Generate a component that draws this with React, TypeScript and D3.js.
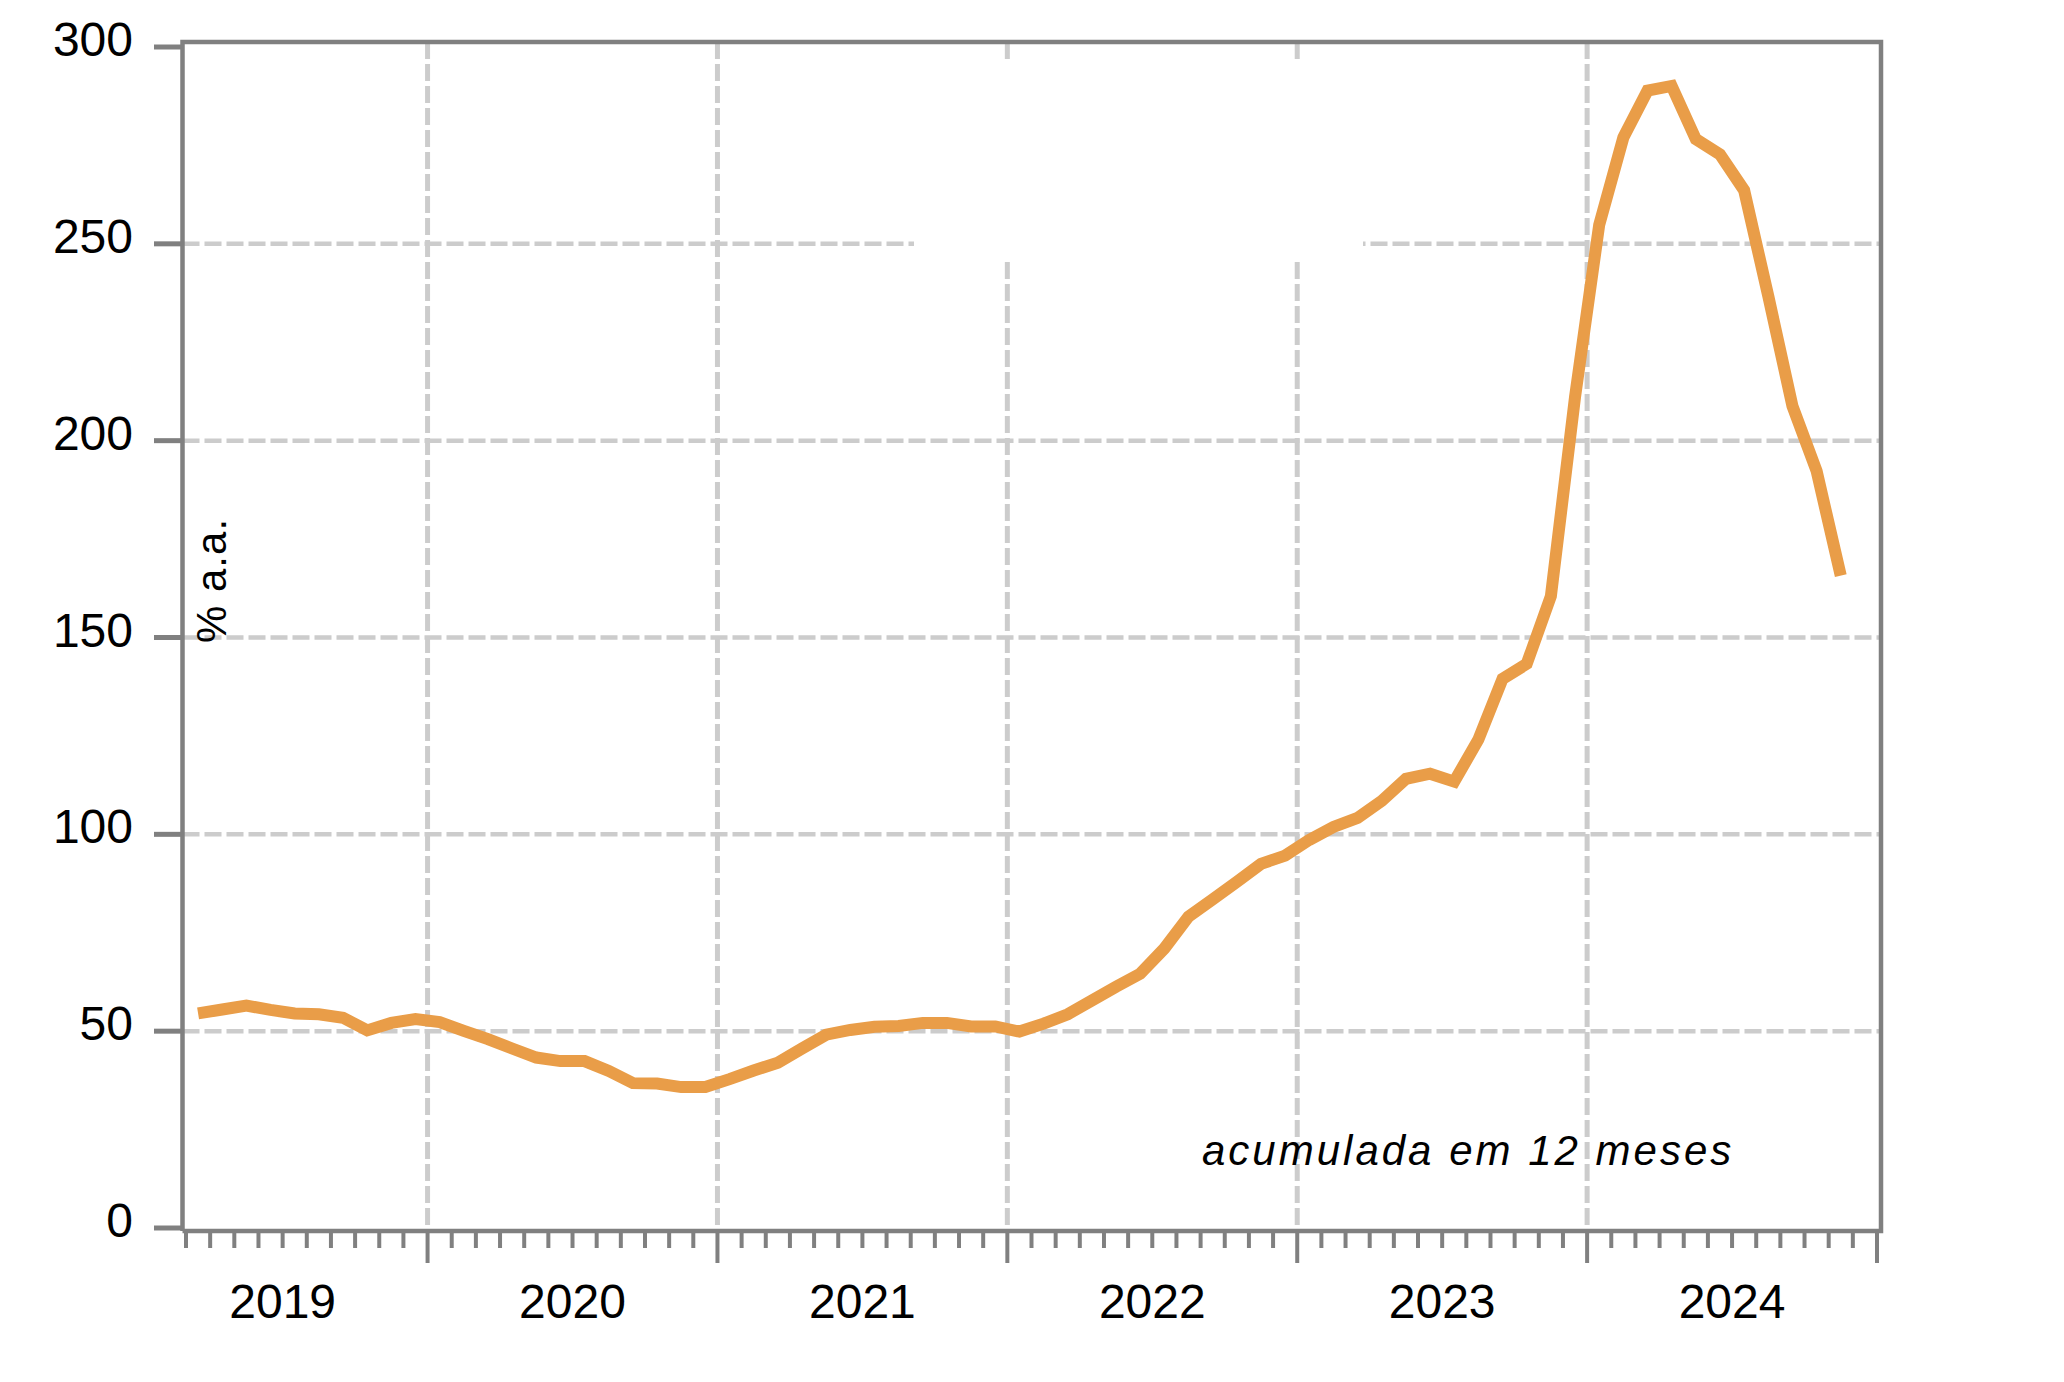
import * as d3 from 'd3'

// monthly series, Mar 2019 .. Nov 2024 (% a.a., acumulada em 12 meses)
const firstYear = 2019
const firstMonth = 2 // March, 0-based
const lastBoundary = 70 // Jan 2025, in months after Mar 2019

const yearLabels = ['2019', '2020', '2021', '2022', '2023', '2024']
const yTicks = [0, 50, 100, 150, 200, 250, 300]
const yGrid = [50, 100, 150, 200, 250]

const inflation = [
  54.5, 55.5, 56.5, 55.4, 54.5, 54.3, 53.4, 50.2, 52.1, 53.1,
  52.3, 50.1, 48.0, 45.6, 43.3, 42.4, 42.4, 39.9, 36.8, 36.7, 35.8, 35.8,
  37.8, 40.0, 42.0, 45.6, 49.1, 50.3, 51.1, 51.3, 52.1, 52.1, 51.2, 51.2,
  49.9, 51.9, 54.3, 57.8, 61.3, 64.6, 71.0, 79.1, 83.5, 87.9, 92.5, 94.6,
  98.6, 101.9, 104.2, 108.5, 114.1, 115.4, 113.4, 124.1, 139.5, 143.3, 160.5, 211.1,
  254.8, 277.0, 288.9, 290.1, 276.6, 272.7, 263.6, 236.7, 208.8, 192.3, 165.7,
]

const axisGray = '#808080'
const gridGray = '#cccccc'
const lineColor = '#e99d48'
const font = '"Liberation Sans", Arial, sans-serif'

export default function App() {
  const W = 2064
  const H = 1382
  const left = 182.5
  const right = 1881
  const top = 42
  const bottom = 1231

  const x = d3.scaleLinear().domain([0, lastBoundary]).range([186, 1877])
  const y = d3.scaleLinear().domain([0, 300]).range([1228, 47])

  const line = d3.line<number>()
    .x((_, i) => x(i + 0.5))
    .y(d => y(d))

  const boundaries = d3.range(0, lastBoundary + 1)
  const isYearStart = (k: number) => (k + firstMonth) % 12 === 0
  const yearMid = (i: number) => i * 12 - firstMonth + 6

  return (
    <svg width={W} height={H} style={{ position: 'absolute', left: 0, top: 0, background: '#fff' }}>
      {/* gridlines */}
      {yGrid.map(v => (
        <line key={'gy' + v} x1={left} x2={right} y1={y(v)} y2={y(v)}
          stroke={gridGray} strokeWidth={4.5} strokeDasharray="17 5" />
      ))}
      {boundaries.filter(k => isYearStart(k) && k < lastBoundary).map(k => (
        <line key={'gx' + k} x1={x(k)} x2={x(k)} y1={top} y2={bottom}
          stroke={gridGray} strokeWidth={5} strokeDasharray="17 5" />
      ))}
      {/* empty legend area */}
      <rect x={914} y={64} width={449} height={193} fill="#fff" />

      {/* frame */}
      <path d={`M${left},${bottom}V${top}H${right}V${bottom}H${left}`} fill="none"
        stroke={axisGray} strokeWidth={4.5} />

      {/* y ticks */}
      {yTicks.map(v => (
        <g key={'yt' + v}>
          <line x1={154} x2={left} y1={y(v)} y2={y(v)} stroke={axisGray} strokeWidth={5} />
          <text x={133} y={y(v) + 9} textAnchor="end" fontFamily={font} fontSize={48} fill="#000">{v}</text>
        </g>
      ))}

      {/* x ticks */}
      {boundaries.map(k => (
        <line key={'xt' + k} x1={x(k)} x2={x(k)} y1={bottom}
          y2={isYearStart(k) ? 1263 : 1248} stroke={axisGray} strokeWidth={4} />
      ))}
      {yearLabels.map((lab, i) => (
        <text key={lab} x={x(yearMid(i))} y={1318} textAnchor="middle"
          fontFamily={font} fontSize={48} fill="#000">{lab}</text>
      ))}

      {/* series */}
      <path d={line(inflation) || ''} fill="none" stroke={lineColor} strokeWidth={12}
        strokeLinejoin="miter" strokeLinecap="butt" />

      {/* labels */}
      <text transform="translate(226,643) rotate(-90)" fontFamily={font} fontSize={42}
        letterSpacing={1} fill="#000">% a.a.</text>
      <text x={1202} y={1165} fontFamily={font} fontSize={42} fontStyle="italic"
        letterSpacing={3} fill="#000">acumulada em 12 meses</text>
    </svg>
  )
}
